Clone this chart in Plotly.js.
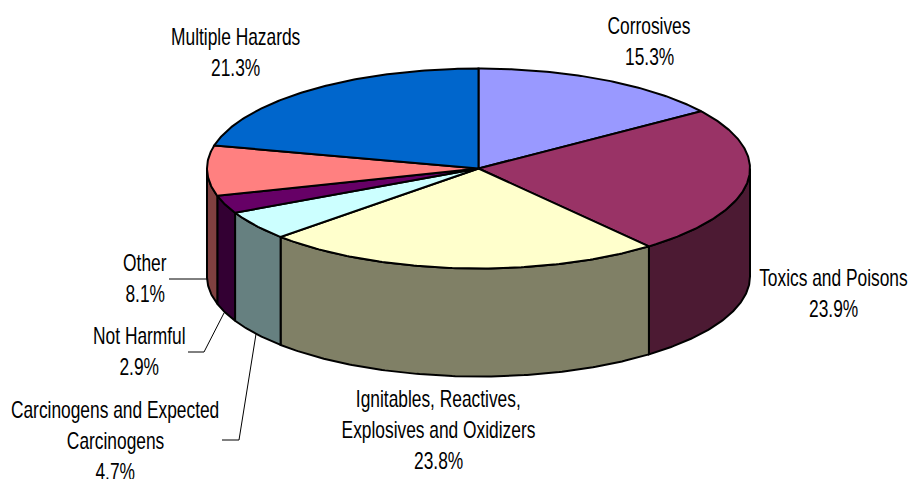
<!DOCTYPE html>
<html><head><meta charset="utf-8">
<script src="https://cdn.plot.ly/plotly-3.0.1.min.js"></script>
<style>html,body{margin:0;padding:0;background:#fff}#c{width:911px;height:479px}</style>
</head><body><div id="c"></div>
<script>
const categories = ["Corrosives","Toxics and Poisons","Ignitables, Reactives, Explosives and Oxidizers","Carcinogens and Expected Carcinogens","Not Harmful","Other","Multiple Hazards"];
const values = [15.3,23.9,23.8,4.7,2.9,8.1,21.3];
const topColors = ["#9999FF","#993366","#FFFFCC","#CCFFFF","#660066","#FF8080","#0066CC"];
const wallColors = ["#4D4D80","#4C1A33","#808066","#668080","#330033","#804040","#003366"];
const labelLines = [["Corrosives"],["Toxics and Poisons"],["Ignitables, Reactives,","Explosives and Oxidizers"],["Carcinogens and Expected","Carcinogens"],["Not Harmful"],["Other"],["Multiple Hazards"]];

// layout geometry, kept apart from the data
const cx=478.5, cy=168.5, rx=271.5, ry=100, depth=108;
const labelX=[649,833,438,115,139,145,235];
const labelY=[26,278,399,409.5,336,263,37];
const lineGap=31;
const narrow=0.755;
const leaders=[
  {x:[169,207],y:[279,279]},
  {x:[188,204,224],y:[352,352,313]},
  {x:[222,239,256],y:[440,440,334]}
];

const px=a=>cx+rx*Math.sin(a), py=a=>cy-ry*Math.cos(a);
const total=values.reduce((s,v)=>s+v,0);
let acc=0;
const slices=values.map(v=>{const a0=acc/total*2*Math.PI;acc+=v;return [a0,acc/total*2*Math.PI];});
const arc=(a0,a1)=>{const n=Math.max(2,Math.ceil((a1-a0)*90)),r=[];for(let i=0;i<=n;i++)r.push(a0+(a1-a0)*i/n);return r;};
const base={type:"scatter",mode:"lines",hoverinfo:"skip",showlegend:false,xaxis:"x",yaxis:"y"};
const traces=[];
// side walls (only the front half is visible)
slices.forEach(([a0,a1],i)=>{
  const s=Math.max(a0,Math.PI/2), e=Math.min(a1,3*Math.PI/2);
  if(e<=s) return;
  const A=arc(s,e);
  const x=A.map(px).concat(A.slice().reverse().map(px)); 
  const y=A.map(a=>py(a)+depth).concat(A.slice().reverse().map(py));
  x.push(x[0]); y.push(y[0]);
  traces.push({...base,x,y,fill:"toself",fillcolor:wallColors[i],line:{color:"#000",width:2}});
});
// top faces
slices.forEach(([a0,a1],i)=>{
  const A=arc(a0,a1);
  const x=[cx].concat(A.map(px),[cx]), y=[cy].concat(A.map(py),[cy]);
  traces.push({...base,x,y,fill:"toself",fillcolor:topColors[i],line:{color:"#000",width:2}});
});
// leader lines
leaders.forEach(l=>traces.push({...base,x:l.x,y:l.y,line:{color:"#000",width:1}}));

const font={family:"'Liberation Sans',Arial,sans-serif",size:23,color:"#000"};
const annotations=[];
labelLines.forEach((lines,i)=>{
  lines.concat([values[i].toFixed(1)+"%"]).forEach((t,k)=>{
    annotations.push({x:labelX[i],y:labelY[i]+k*lineGap,xref:"x",yref:"y",text:t,showarrow:false,font,xanchor:"center",yanchor:"middle",align:"center"});
  });
});
Plotly.newPlot("c",traces,{
  width:911,height:479,margin:{l:0,r:0,t:0,b:0},
  paper_bgcolor:"#fff",plot_bgcolor:"#fff",showlegend:false,annotations,
  xaxis:{range:[0,911],visible:false,fixedrange:true},
  yaxis:{range:[479,0],visible:false,fixedrange:true}
},{displayModeBar:false,staticPlot:true}).then(()=>{
  // the reference's labels are a condensed face: squeeze the real text horizontally about its centre
  document.querySelectorAll("#c .annotation-text").forEach(t=>{
    const b=t.getBBox(), mid=b.x+b.width/2, old=t.getAttribute("transform")||"";
    t.setAttribute("transform",old+" translate("+mid+",0) scale("+narrow+",1) translate("+(-mid)+",0)");
  });
});
</script></body></html>
